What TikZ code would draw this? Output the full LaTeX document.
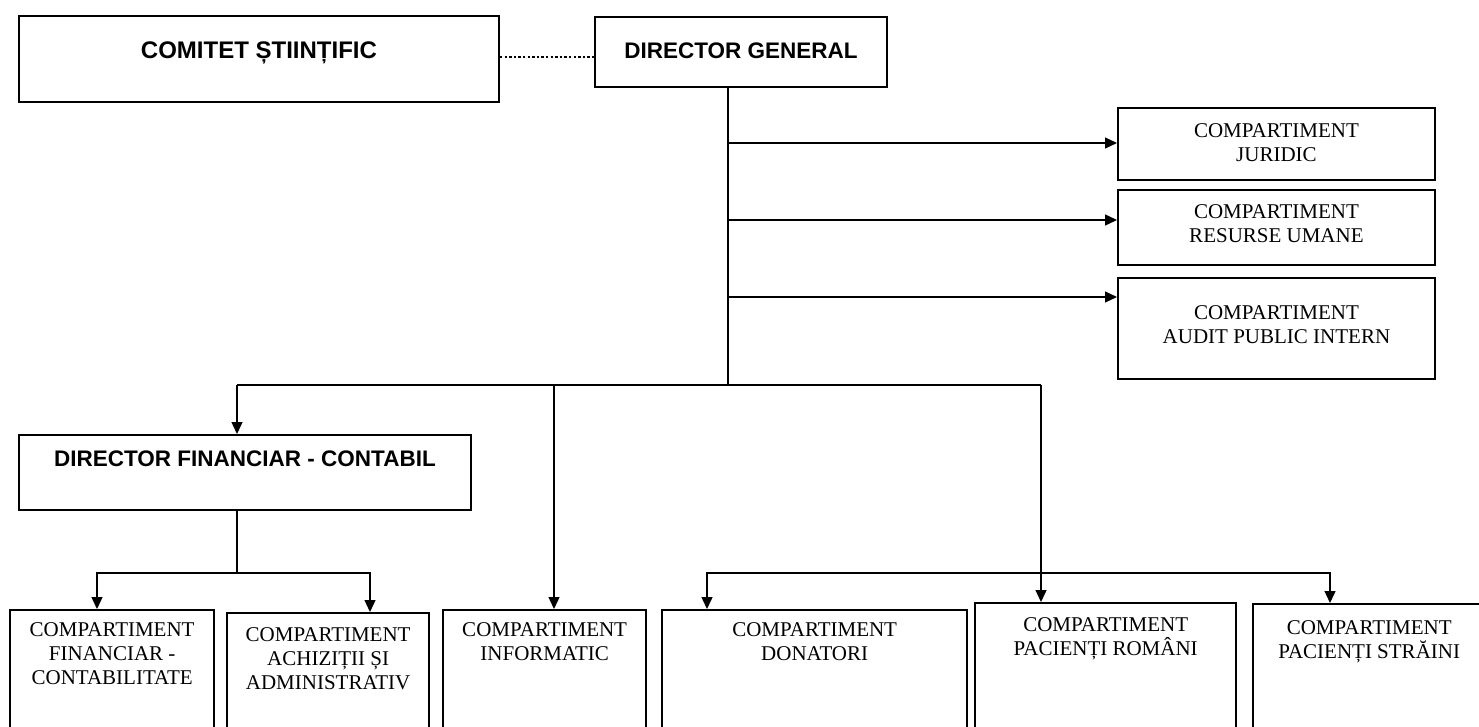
\documentclass[tikz,border=0pt]{standalone}
\usepackage{fontspec}
\setmainfont{Liberation Serif}
\newfontfamily\arialfont{Liberation Sans}
\usetikzlibrary{arrows.meta,positioning}
\tikzset{
  box/.style={draw, line width=1.9pt, rectangle, inner sep=0pt, anchor=north west},
  lowbox/.style={box, line width=2.3pt, minimum height=160pt},
  lbl/.style={inner sep=0pt, anchor=north, align=center, font=\fontsize{21}{24}\selectfont},
  blbl/.style={inner sep=0pt, anchor=north, align=center, font=\arialfont\bfseries\fontsize{22.5}{27}\selectfont},
  conn/.style={line width=1.4pt},
  arr/.style={conn, -{Triangle[width=11pt,length=12pt]}},
  arrs/.style={conn, {Triangle[width=11pt,length=12pt]}-{Triangle[width=11pt,length=12pt]}},
  dots/.style={line width=2.7pt, dash pattern=on 2.5pt off 2.1pt},
}
\begin{document}
\begin{tikzpicture}[x=1pt,y=-1pt]
\useasboundingbox (0,0) rectangle (1479,727);
\fill[white] (0,0) rectangle (1479,727);
\clip (0,0) rectangle (1479,727);
% top boxes
\node[box, minimum width=480pt, minimum height=86pt] (com) at (18,15) {};
\node[box, minimum width=292pt, minimum height=70pt] (dg) at (594,16) {};
\node[blbl, font=\arialfont\bfseries\fontsize{24}{28}\selectfont, below=27pt of com.north] (comt) {COMITET ȘTIINȚIFIC};
\node[blbl, below=27pt of dg.north] (dgt) {DIRECTOR GENERAL};
% right boxes
\node[box, minimum width=317pt, minimum height=72pt] (jur) at (1117,107) {};
\node[box, minimum width=317pt, minimum height=75pt] (res) at (1117,189) {};
\node[box, minimum width=317pt, minimum height=101pt] (aud) at (1117,277) {};
\node[lbl, below=16pt of jur.north] (jurt) {COMPARTIMENT\\JURIDIC};
\node[lbl, below=15pt of res.north] (rest) {COMPARTIMENT\\RESURSE UMANE};
\node[lbl, below=28pt of aud.north] (audt) {COMPARTIMENT\\AUDIT PUBLIC INTERN};
% financial director
\node[box, minimum width=452pt, minimum height=75pt] (dfc) at (18,434) {};
\node[blbl, below=17pt of dfc.north] (dfct) {DIRECTOR FINANCIAR - CONTABIL};
% bottom boxes
\node[lowbox, minimum width=204pt] (fin) at (9,609) {};
\node[lowbox, minimum width=202pt] (ach) at (226,612) {};
\node[lowbox, minimum width=203pt] (inf) at (442,609) {};
\node[lowbox, minimum width=305pt] (don) at (661,609) {};
\node[lowbox, minimum width=261pt] (rom) at (974,602) {};
\node[lowbox, minimum width=232pt] (str) at (1252,603) {};
\node[lbl, below=13pt of fin.north] (fint) {COMPARTIMENT\\FINANCIAR -\\CONTABILITATE};
\node[lbl, below=15pt of ach.north] (acht) {COMPARTIMENT\\ACHIZIȚII ȘI\\ADMINISTRATIV};
\node[lbl, below=13pt of inf.north] (inft) {COMPARTIMENT\\INFORMATIC};
\node[lbl, below=13pt of don.north] (dont) {COMPARTIMENT\\DONATORI};
\node[lbl, below=15pt of rom.north] (romt) {COMPARTIMENT\\PACIENȚI ROMÂNI};
\node[lbl, below=17pt of str.north] (strt) {COMPARTIMENT\\PACIENȚI STRĂINI};
% connector coordinates
\coordinate (t0) at (728,86);
\coordinate (r1) at (728,143);
\coordinate (r2) at (728,220);
\coordinate (r3) at (728,297);
\coordinate (busL) at (237,385);
\coordinate (busR) at (1041,385);
\coordinate (bi) at (554,385);
\coordinate (d0) at (237,509);
\coordinate (d1) at (237,573);
\coordinate (f1) at (97,573);
\coordinate (a1) at (370,573);
\coordinate (b2L) at (707,573);
\coordinate (b2R) at (1330,573);
\coordinate (dl) at ([yshift=-5pt]dg.west);
% connectors
\draw[dots] (dl -| com.east) -- (dl);
\draw[conn] (t0) -- (t0 |- busL);
\draw[arr] (r1) -- (r1 -| jur.west);
\draw[arr] (r2) -- (r2 -| res.west);
\draw[arr] (r3) -- (r3 -| aud.west);
\draw[conn] (busL) -- (busR);
\draw[arr] (busL) -- (busL |- dfc.north);
\draw[arr] (bi) -- (bi |- inf.north);
\draw[arr] (busR) -- (busR |- rom.north);
\draw[conn] (d0) -- (d1);
\draw[arrs] (f1 |- fin.north) -- (f1) -- (a1) -- (a1 |- ach.north);
\draw[arrs] (b2L |- don.north) -- (b2L) -- (b2R) -- (b2R |- str.north);
\end{tikzpicture}
\end{document}
